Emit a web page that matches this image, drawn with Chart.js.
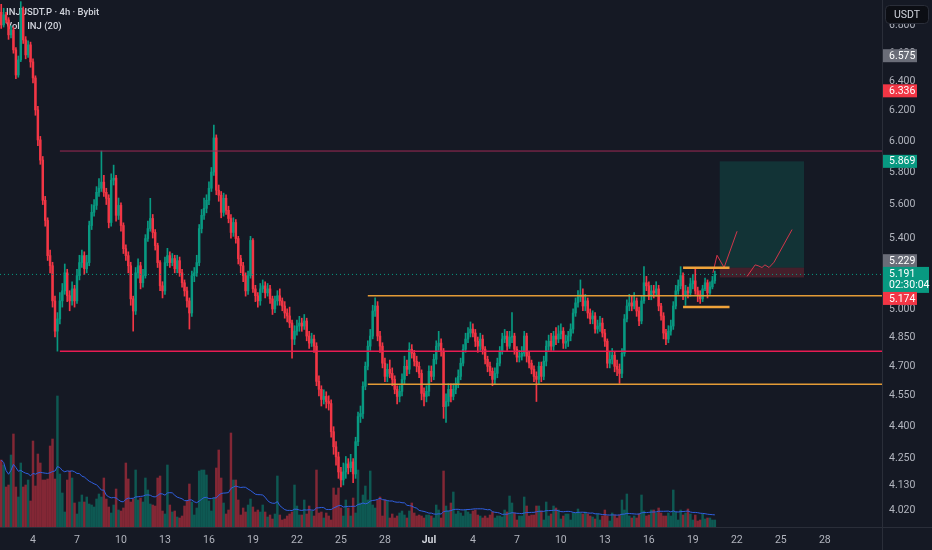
<!DOCTYPE html>
<html lang="en">
<head>
  <meta charset="UTF-8">
  <meta name="viewport" content="width=device-width, initial-scale=1.0">
  <title>INJUSDT.P 4h</title>
  <style>
    html, body{
      margin: 0;
      padding: 0;
      background: #151924;
    }
    .canvas-con{
      width: 932px;
      height: 550px;
    }
  </style>
</head>
<body>
  <div class="canvas-con">
    <canvas id="myChart" width="932" height="550"></canvas>
  </div>

  <script src="https://cdn.jsdelivr.net/npm/chart.js"></script>
  <script>
  // 4h candles, first one Jun 1 20:00, last one Jul 20 12:00
  const firstOpen = 6.900
  const closes = [
    6.806, 6.881, 6.843, 6.733, 6.769, 6.624, 6.446, 6.552, 6.918, 6.696,
    6.588, 6.660, 6.538, 6.425, 6.206, 6.007, 5.877, 5.626, 5.504, 5.298,
    5.240, 5.044, 4.881, 4.946, 5.044, 5.099, 5.200, 5.072, 5.044, 5.110,
    5.044, 5.184, 5.258, 5.298, 5.223, 5.258, 5.474, 5.553, 5.595, 5.675,
    5.700, 5.738, 5.675, 5.638, 5.492, 5.750, 5.763, 5.535, 5.595, 5.474,
    5.338, 5.298, 5.240, 5.055, 4.989, 5.200, 5.240, 5.144, 5.184, 5.397,
    5.456, 5.516, 5.433, 5.356, 5.258, 5.127, 5.099, 5.258, 5.298, 5.258,
    5.281, 5.223, 5.269, 5.200, 5.144, 5.099, 5.044, 4.978, 5.184, 5.200,
    5.258, 5.456, 5.535, 5.577, 5.626, 5.700, 5.801, 6.020, 5.688, 5.657,
    5.553, 5.638, 5.565, 5.516, 5.433, 5.492, 5.397, 5.281, 5.240, 5.184,
    5.099, 5.184, 5.386, 5.110, 5.072, 5.044, 5.110, 5.127, 5.088, 5.110,
    5.055, 5.000, 5.044, 5.072, 5.044, 5.016, 4.978, 4.962, 4.924, 4.839,
    4.881, 4.908, 4.924, 4.908, 4.935, 4.855, 4.818, 4.839, 4.802, 4.622,
    4.582, 4.532, 4.547, 4.522, 4.512, 4.376, 4.305, 4.258, 4.189, 4.153,
    4.189, 4.226, 4.208, 4.235, 4.180, 4.329, 4.449, 4.463, 4.597, 4.698,
    4.802, 4.855, 4.989, 5.016, 4.855, 4.802, 4.714, 4.647, 4.683, 4.662,
    4.632, 4.582, 4.547, 4.572, 4.632, 4.698, 4.683, 4.786, 4.765, 4.724,
    4.698, 4.662, 4.562, 4.547, 4.572, 4.673, 4.647, 4.734, 4.802, 4.818,
    4.776, 4.497, 4.522, 4.582, 4.547, 4.582, 4.612, 4.647, 4.714, 4.786,
    4.839, 4.871, 4.892, 4.871, 4.828, 4.802, 4.839, 4.786, 4.734, 4.698,
    4.673, 4.632, 4.662, 4.714, 4.776, 4.839, 4.855, 4.802, 4.849, 4.855,
    4.786, 4.745, 4.750, 4.765, 4.855, 4.750, 4.714, 4.683, 4.647, 4.632,
    4.698, 4.647, 4.724, 4.802, 4.828, 4.802, 4.855, 4.839, 4.866, 4.881,
    4.818, 4.828, 4.855, 4.892, 4.978, 5.033, 5.066, 5.077, 5.016, 5.044,
    4.978, 4.946, 4.962, 4.892, 4.908, 4.924, 4.871, 4.828, 4.714, 4.734,
    4.755, 4.698, 4.683, 4.662, 4.765, 4.946, 5.016, 5.033, 5.016, 5.044,
    4.989, 4.935, 5.044, 5.144, 5.127, 5.072, 5.099, 5.088, 5.110, 5.016,
    4.962, 4.871, 4.839, 4.881, 4.908, 5.016, 5.099, 5.127, 5.184, 5.077,
    5.099, 5.088, 5.138, 5.155, 5.099, 5.077, 5.055, 5.110, 5.144, 5.088,
    5.121, 5.155, 5.191
  ]
  const highs = [
    6.960, 6.930, 6.900, 6.860, 6.800, 6.790, 6.640, 6.580, 6.980, 6.940,
    6.720, 6.690, 6.680, 6.560, 6.440, 6.230, 6.030, 5.900, 5.650, 5.520,
    5.330, 5.260, 5.070, 4.980, 5.090, 5.140, 5.250, 5.220, 5.100, 5.150,
    5.130, 5.220, 5.300, 5.330, 5.320, 5.300, 5.500, 5.600, 5.630, 5.710,
    5.760, 5.935, 5.780, 5.700, 5.660, 5.790, 5.845, 5.780, 5.640, 5.610,
    5.490, 5.360, 5.320, 5.260, 5.070, 5.230, 5.280, 5.260, 5.220, 5.420,
    5.500, 5.638, 5.540, 5.450, 5.370, 5.270, 5.150, 5.290, 5.340, 5.320,
    5.310, 5.300, 5.300, 5.290, 5.220, 5.160, 5.120, 5.060, 5.210, 5.230,
    5.300, 5.480, 5.570, 5.640, 5.660, 5.740, 5.830, 6.105, 6.040, 5.720,
    5.680, 5.670, 5.660, 5.590, 5.540, 5.520, 5.510, 5.410, 5.300, 5.260,
    5.200, 5.210, 5.410, 5.397, 5.130, 5.090, 5.140, 5.160, 5.150, 5.140,
    5.130, 5.070, 5.070, 5.100, 5.110, 5.060, 5.040, 5.000, 5.010, 4.940,
    4.910, 4.940, 4.960, 4.950, 4.970, 4.950, 4.880, 4.870, 4.860, 4.820,
    4.650, 4.600, 4.580, 4.570, 4.550, 4.530, 4.400, 4.330, 4.280, 4.210,
    4.230, 4.260, 4.250, 4.270, 4.250, 4.350, 4.470, 4.500, 4.620, 4.720,
    4.830, 4.890, 5.020, 5.060, 5.040, 4.880, 4.820, 4.740, 4.710, 4.730,
    4.690, 4.650, 4.600, 4.600, 4.660, 4.750, 4.730, 4.820, 4.810, 4.780,
    4.750, 4.720, 4.680, 4.590, 4.600, 4.700, 4.700, 4.760, 4.830, 4.880,
    4.840, 4.790, 4.560, 4.610, 4.610, 4.610, 4.640, 4.680, 4.740, 4.810,
    4.870, 4.900, 4.930, 4.920, 4.890, 4.850, 4.870, 4.860, 4.800, 4.750,
    4.720, 4.690, 4.690, 4.740, 4.800, 4.870, 4.890, 4.880, 4.880, 4.980,
    4.870, 4.800, 4.780, 4.800, 4.880, 4.870, 4.770, 4.730, 4.700, 4.670,
    4.720, 4.720, 4.750, 4.830, 4.860, 4.870, 4.880, 4.900, 4.910, 4.920,
    4.900, 4.860, 4.880, 4.920, 5.000, 5.060, 5.100, 5.160, 5.110, 5.080,
    5.060, 5.000, 4.990, 4.980, 4.940, 4.960, 4.950, 4.890, 4.840, 4.770,
    4.790, 4.770, 4.730, 4.710, 4.790, 4.970, 5.050, 5.080, 5.070, 5.090,
    5.060, 5.010, 5.070, 5.235, 5.180, 5.150, 5.130, 5.130, 5.150, 5.130,
    5.030, 4.980, 4.890, 4.910, 4.940, 5.040, 5.130, 5.160, 5.235, 5.200,
    5.130, 5.120, 5.170, 5.190, 5.230, 5.120, 5.100, 5.130, 5.170, 5.160,
    5.150, 5.180, 5.210
  ]
  const lows = [
    6.780, 6.790, 6.820, 6.700, 6.710, 6.600, 6.420, 6.430, 6.540, 6.670,
    6.560, 6.570, 6.500, 6.390, 6.170, 5.970, 5.850, 5.600, 5.470, 5.270,
    5.200, 5.010, 4.850, 4.776, 4.920, 5.010, 5.080, 5.040, 4.990, 5.020,
    5.010, 5.030, 5.160, 5.230, 5.190, 5.200, 5.240, 5.450, 5.530, 5.570,
    5.650, 5.680, 5.650, 5.600, 5.460, 5.470, 5.720, 5.500, 5.510, 5.440,
    5.310, 5.270, 5.200, 5.020, 4.881, 4.970, 5.170, 5.110, 5.120, 5.170,
    5.380, 5.440, 5.400, 5.330, 5.230, 5.100, 5.060, 5.080, 5.240, 5.230,
    5.240, 5.200, 5.200, 5.180, 5.120, 5.070, 5.010, 4.892, 4.960, 5.150,
    5.180, 5.240, 5.430, 5.510, 5.550, 5.600, 5.680, 5.780, 5.660, 5.620,
    5.520, 5.530, 5.540, 5.490, 5.400, 5.410, 5.370, 5.250, 5.200, 5.150,
    5.070, 5.080, 5.170, 5.090, 5.040, 5.010, 5.020, 5.090, 5.060, 5.070,
    5.030, 4.970, 4.980, 5.020, 5.020, 4.990, 4.950, 4.930, 4.900, 4.740,
    4.810, 4.860, 4.880, 4.880, 4.890, 4.830, 4.790, 4.800, 4.770, 4.600,
    4.550, 4.500, 4.510, 4.490, 4.480, 4.350, 4.270, 4.220, 4.160, 4.121,
    4.130, 4.160, 4.180, 4.190, 4.140, 4.160, 4.310, 4.420, 4.440, 4.580,
    4.680, 4.780, 4.840, 4.960, 4.830, 4.770, 4.690, 4.620, 4.620, 4.640,
    4.600, 4.560, 4.510, 4.520, 4.550, 4.610, 4.650, 4.660, 4.740, 4.700,
    4.670, 4.640, 4.530, 4.500, 4.520, 4.550, 4.620, 4.630, 4.710, 4.780,
    4.750, 4.440, 4.420, 4.500, 4.520, 4.530, 4.560, 4.590, 4.630, 4.700,
    4.770, 4.820, 4.850, 4.850, 4.800, 4.770, 4.780, 4.760, 4.710, 4.670,
    4.650, 4.600, 4.610, 4.640, 4.700, 4.760, 4.820, 4.780, 4.790, 4.820,
    4.760, 4.720, 4.720, 4.730, 4.750, 4.720, 4.690, 4.660, 4.620, 4.522,
    4.610, 4.620, 4.630, 4.700, 4.780, 4.780, 4.780, 4.810, 4.820, 4.840,
    4.790, 4.790, 4.800, 4.830, 4.870, 4.960, 5.010, 5.040, 4.990, 4.990,
    4.950, 4.920, 4.920, 4.870, 4.870, 4.880, 4.850, 4.800, 4.690, 4.690,
    4.710, 4.670, 4.650, 4.612, 4.640, 4.750, 4.930, 4.990, 4.990, 5.000,
    4.960, 4.910, 4.920, 5.030, 5.100, 5.050, 5.050, 5.060, 5.070, 4.990,
    4.940, 4.840, 4.810, 4.820, 4.860, 4.890, 5.000, 5.080, 5.110, 5.050,
    5.020, 5.060, 5.070, 5.110, 5.080, 5.040, 5.030, 5.040, 5.100, 5.060,
    5.080, 5.110, 5.140
  ]
  // volume in K INJ
  const volumes = [
    67, 62, 40, 42, 72, 93, 40, 30, 64, 40,
    42, 47, 26, 86, 41, 73, 64, 47, 47, 48,
    81, 88, 48, 131, 53, 34, 15, 47, 56, 49,
    24, 13, 25, 32, 25, 30, 23, 22, 20,
    28, 33, 30, 49, 28, 20, 14, 22, 38, 17,
    16, 19, 64, 48, 25, 28, 57, 27, 29,
    25, 49, 37, 23, 22, 21, 49, 51, 16, 13,
    62, 22, 15, 16, 10, 9, 11, 21, 26, 43,
    25, 12, 19, 56, 57, 57, 52, 26, 16, 29,
    59, 77, 49, 24, 13, 17, 94, 47, 47, 27,
    12, 19, 15, 22, 28, 20, 15, 17, 15,
    22, 15, 10, 12, 8, 13, 51, 12, 7,
    8, 11, 13, 15, 42, 21, 12, 12,
    27, 13, 21, 16, 11, 57, 14, 15, 9, 14,
    11, 7, 39, 32, 39, 19, 11, 27, 19, 11,
    29, 14, 57, 24, 32, 41, 27, 56, 22, 19,
    27, 30, 11, 27, 26, 9, 13, 9, 11, 14,
    16, 12, 9, 16, 24, 14, 11, 12, 11,
    9, 12, 12, 11, 9, 22, 17, 9, 56,
    21, 16, 24, 35, 13, 16, 14, 11, 17, 15,
    13, 16, 17, 12, 11, 9, 11, 9, 12, 15,
    9, 11, 11, 10, 17, 15, 31, 24,
    14, 7, 11, 11, 30, 21, 11, 12, 12, 21,
    21, 16, 7, 25, 11, 13, 21, 19, 17, 8,
    11, 13, 13, 7, 14, 14, 18, 14, 13,
    15, 13, 11, 10, 8, 13, 7, 11, 17, 11,
    6, 14, 12, 9, 12, 27, 17, 33, 11, 9,
    11, 9, 13, 32, 16, 11, 12, 17, 17, 14,
    19, 14, 11, 11, 14, 11, 37, 15, 7, 17,
    12, 14, 18, 13, 7, 12, 6, 7, 13, 8,
    9, 9, 7, 7
  ]
  const maPeriod = 20

  // day labels every 3 days, first one Jun 4 00:00 = candle 13
  const dayLabels = ['4', '7', '10', '13', '16', '19', '22', '25', '28', 'Jul', '4', '7', '10', '13', '16', '19', '22', '25', '28']
  const firstTickCandle = 13
  const candlesPerTick = 18
  const priceTicks = [6.8, 6.6, 6.4, 6.2, 6.0, 5.8, 5.6, 5.4, 5.2, 5.0, 4.85, 4.7, 4.55, 4.4, 4.25, 4.13, 4.02]

  // drawings
  const levelPrices = [5.935, 4.776, 5.072, 4.607]
  const levelStarts = [24, 24, 150, 150]
  const rangePrices = [5.229, 5.011]
  const rangeFrom = 279, rangeTo = 298
  const entry = 5.229, target = 5.869, stop = 5.174
  const boxFrom = 294, boxTo = 328.5
  const pathAX = [291.2, 292.9, 295.8, 301.1]
  const pathAY = [5.20, 5.30, 5.23, 5.44]
  const pathBX = [305.2, 308.5, 309.7, 311.3, 312.5, 314.2, 316.2, 323.6]
  const pathBY = [5.18, 5.245, 5.24, 5.23, 5.245, 5.23, 5.26, 5.45]
  const lastPrice = 5.191

  const xMin = -0.5, xMax = 360.4
  const yMin = 3.946, yMax = 6.9925

  const upColor = '#089981'
  const downColor = '#f23645'

  const opens = closes.map((c, i) => i === 0 ? firstOpen : closes[i - 1])
  const candleColors = closes.map((c, i) => c >= opens[i] ? upColor : downColor)
  const volColors = closes.map((c, i) => c >= opens[i] ? 'rgba(8,153,129,0.5)' : 'rgba(242,54,69,0.5)')
  const volMA = volumes.map((v, i) => {
    const win = volumes.slice(Math.max(0, i - maPeriod + 1), i + 1)
    return {x: i, y: win.reduce((a, b) => a + b, 0) / win.length}
  })

  const levelColors = ['#9e2a55', '#e81c52', '#e39b36', '#e39b36']
  const levelWidths = [1, 1.5, 1.5, 1.5]
  const levelSets = levelPrices.map((p, k) => ({
    type: 'line',
    data: [{x: levelStarts[k], y: p}, {x: xMax, y: p}],
    borderColor: levelColors[k],
    borderWidth: levelWidths[k],
    pointRadius: 0,
    order: 1
  }))
  const rangeSets = rangePrices.map(p => ({
    type: 'line',
    data: [{x: rangeFrom, y: p}, {x: rangeTo, y: p}],
    borderColor: '#f0a33a',
    borderWidth: 2.5,
    pointRadius: 0,
    order: 1
  }))
  const pathSet = (xs, ys) => ({
    type: 'line',
    data: xs.map((x, k) => ({x: x, y: ys[k]})),
    borderColor: 'rgba(230,54,76,0.9)',
    borderWidth: 1,
    pointRadius: 0,
    order: 1
  })

  const background = {
    id: 'background',
    beforeDraw: (chart) => {
      const ctx = chart.ctx
      ctx.save()
      ctx.fillStyle = '#151924'
      ctx.fillRect(0, 0, chart.width, chart.height)
      ctx.restore()
    }
  }

  // long position box + legend text, under the candles
  const underlay = {
    id: 'underlay',
    beforeDatasetsDraw: (chart) => {
      const ctx = chart.ctx
      const x = chart.scales.x, y = chart.scales.y
      const left = x.getPixelForValue(boxFrom), right = x.getPixelForValue(boxTo)
      const yT = y.getPixelForValue(target), yE = y.getPixelForValue(entry), yS = y.getPixelForValue(stop)
      ctx.save()
      ctx.fillStyle = 'rgba(8,153,129,0.2)'
      ctx.fillRect(left, yT, right - left, yE - yT)
      ctx.fillStyle = 'rgba(242,54,69,0.22)'
      ctx.fillRect(left, yE, right - left, yS - yE)

      ctx.font = '500 9.5px Roboto'
      ctx.textBaseline = 'middle'
      ctx.fillStyle = '#d1d4dc'
      ctx.fillText('INJUSDT.P · 4h · Bybit', 6, 13)
      ctx.fillText('Vol · INJ (20)', 6, 27)
      ctx.restore()
    }
  }

  // price tags on the right axis
  const tags = [
    {price: 6.575, color: '#6a6d78', nudge: -1},
    {price: 6.336, color: downColor, nudge: 0},
    {price: 5.869, color: upColor, nudge: 0},
    {price: 5.229, color: '#6a6d78', nudge: -7},
    {price: lastPrice, color: upColor, nudge: -1, sub: '02:30:04'},
    {price: stop, color: downColor, nudge: 21}
  ]
  const overlay = {
    id: 'overlay',
    afterDraw: (chart) => {
      const ctx = chart.ctx
      const area = chart.chartArea
      const y = chart.scales.y
      ctx.save()
      // pane borders
      ctx.strokeStyle = '#2a2e39'
      ctx.lineWidth = 1
      ctx.beginPath()
      ctx.moveTo(area.right + 0.5, 0)
      ctx.lineTo(area.right + 0.5, chart.height)
      ctx.moveTo(0, area.bottom + 0.5)
      ctx.lineTo(chart.width, area.bottom + 0.5)
      ctx.stroke()

      ctx.font = '10.5px Roboto'
      ctx.textBaseline = 'middle'
      tags.forEach(t => {
        const cy = y.getPixelForValue(t.price) + t.nudge
        const h = t.sub ? 26 : 13
        const w = t.sub ? 46 : 34
        ctx.fillStyle = t.color
        ctx.fillRect(area.right + 1, cy - 6.5, w, h)
        ctx.fillStyle = '#ffffff'
        ctx.fillText(t.price.toFixed(3), area.right + 7, cy + 0.5)
        if (t.sub) ctx.fillText(t.sub, area.right + 7, cy + 12)
      })

      // currency button
      ctx.fillStyle = '#0c0e14'
      ctx.strokeStyle = '#2a2e39'
      ctx.beginPath()
      ctx.roundRect(area.right + 3.5, 5.5, 43, 18, 4)
      ctx.fill()
      ctx.stroke()
      ctx.fillStyle = '#d1d4dc'
      ctx.textAlign = 'center'
      ctx.fillText('USDT', area.right + 25, 15)
      ctx.restore()
    }
  }

  let myChart = new Chart(document.getElementById('myChart'), {
    type: 'bar',
    data: {
      datasets: [
        {
          data: volumes.map((v, i) => ({x: i, y: v})),
          backgroundColor: volColors,
          yAxisID: 'vol',
          barThickness: 1.8,
          grouped: false,
          order: 6
        },
        {
          type: 'line',
          data: volMA,
          yAxisID: 'vol',
          borderColor: '#2f5fe0',
          borderWidth: 1,
          pointRadius: 0,
          order: 5
        },
        {
          data: closes.map((c, i) => ({x: i, y: [lows[i], highs[i]]})),
          backgroundColor: candleColors,
          barThickness: 1,
          grouped: false,
          order: 3
        },
        {
          data: closes.map((c, i) => ({x: i, y: [opens[i], c]})),
          backgroundColor: candleColors,
          barThickness: 1.8,
          minBarLength: 1,
          grouped: false,
          order: 2
        },
        ...levelSets,
        ...rangeSets,
        pathSet(pathAX, pathAY),
        pathSet(pathBX, pathBY),
        {
          type: 'line',
          data: [{x: xMin, y: lastPrice}, {x: xMax, y: lastPrice}],
          borderColor: upColor,
          borderWidth: 1,
          borderDash: [1, 3],
          pointRadius: 0,
          order: 1
        }
      ]
    },
    options: {
      responsive: false,
      animation: false,
      layout: {padding: 0, autoPadding: false},
      plugins: {
        legend: {display: false},
        tooltip: {enabled: false}
      },
      scales: {
        x: {
          type: 'linear',
          min: xMin,
          max: xMax,
          offset: false,
          afterBuildTicks: (s) => {
            s.ticks = dayLabels.map((l, k) => ({value: firstTickCandle + k * candlesPerTick}))
          },
          afterFit: (s) => { s.height = 23 },
          grid: {display: false, drawTicks: false},
          border: {display: false},
          ticks: {
            autoSkip: false,
            maxRotation: 0,
            padding: 7,
            color: (c) => dayLabels[c.index] === 'Jul' ? '#d1d4dc' : '#b2b5be',
            font: (c) => ({family: 'Roboto', size: 10.5, weight: dayLabels[c.index] === 'Jul' ? 'bold' : 'normal'}),
            callback: (v, k) => dayLabels[k]
          }
        },
        y: {
          type: 'logarithmic',
          position: 'right',
          bounds: 'data',
          min: yMin,
          max: yMax,
          afterBuildTicks: (s) => {
            s.ticks = priceTicks.map(v => ({value: v}))
          },
          afterFit: (s) => { s.width = 50 },
          // invisible tick marks + negative padding: labels sit 7px right of the pane
          // and the top/bottom label half-heights do not shrink the chart area
          grid: {display: true, drawOnChartArea: false, drawTicks: true, tickLength: 12.25, color: 'transparent'},
          border: {display: false},
          ticks: {
            autoSkip: false,
            padding: -5.25,
            color: '#b2b5be',
            font: {family: 'Roboto', size: 10.5, lineHeight: 1},
            callback: (v) => Number(v).toFixed(3)
          }
        },
        vol: {
          type: 'linear',
          display: false,
          min: 0,
          max: 527
        }
      }
    },
    plugins: [background, underlay, overlay]
  })
  </script>
</body>
</html>
